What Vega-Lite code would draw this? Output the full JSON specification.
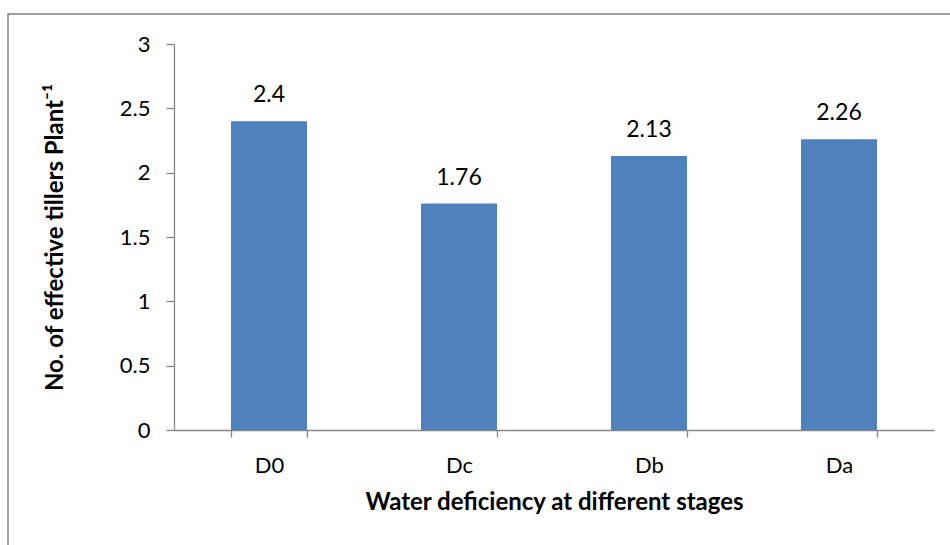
{
  "$schema": "https://vega.github.io/schema/vega-lite/v6.json",
  "width": 960,
  "height": 560,
  "autosize": "none",
  "padding": {"left": 8, "top": 14, "right": 0, "bottom": 0},
  "background": "white",
  "config": {
    "view": {"stroke": "#808080", "strokeWidth": 1.5},
    "font": "Lato",
    "axis": {
      "domainColor": "#868686",
      "tickColor": "#868686",
      "domainWidth": 1.3,
      "tickWidth": 1.3,
      "grid": false,
      "labelColor": "#000000",
      "titleColor": "#000000",
      "labelFont": "Lato",
      "titleFont": "Lato",
      "labelFontSize": 22,
      "titleFontSize": 24,
      "titleFontWeight": "bold"
    }
  },
  "data": {
    "values": [
      {"stage": "D0", "tillers": 2.4},
      {"stage": "Dc", "tillers": 1.76},
      {"stage": "Db", "tillers": 2.13},
      {"stage": "Da", "tillers": 2.26}
    ]
  },
  "encoding": {
    "x": {
      "field": "stage",
      "type": "nominal",
      "sort": null,
      "scale": {"range": [166, 926], "paddingInner": 0.6, "paddingOuter": 0.3},
      "axis": {
        "title": "Water deficiency at different stages",
        "labelAngle": 0,
        "offset": -144,
        "tickBand": "extent",
        "tickSize": 7,
        "labelPadding": 18,
        "titlePadding": 14
      }
    },
    "y": {
      "field": "tillers",
      "type": "quantitative",
      "scale": {"domain": [0, 3], "range": [416, 30], "nice": false, "zero": true},
      "axis": {
        "title": "No. of effective tillers Plant⁻¹",
        "values": [0, 0.5, 1, 1.5, 2, 2.5, 3],
        "format": "~g",
        "offset": -166,
        "tickSize": 8,
        "labelPadding": 16,
        "titlePadding": 52
      }
    }
  },
  "layer": [
    {"mark": {"type": "bar", "color": "#4F81BD"}},
    {
      "mark": {"type": "text", "baseline": "alphabetic", "dy": -19, "fontSize": 23, "font": "Lato", "color": "#000000"},
      "encoding": {"text": {"field": "tillers", "type": "quantitative"}}
    }
  ]
}
